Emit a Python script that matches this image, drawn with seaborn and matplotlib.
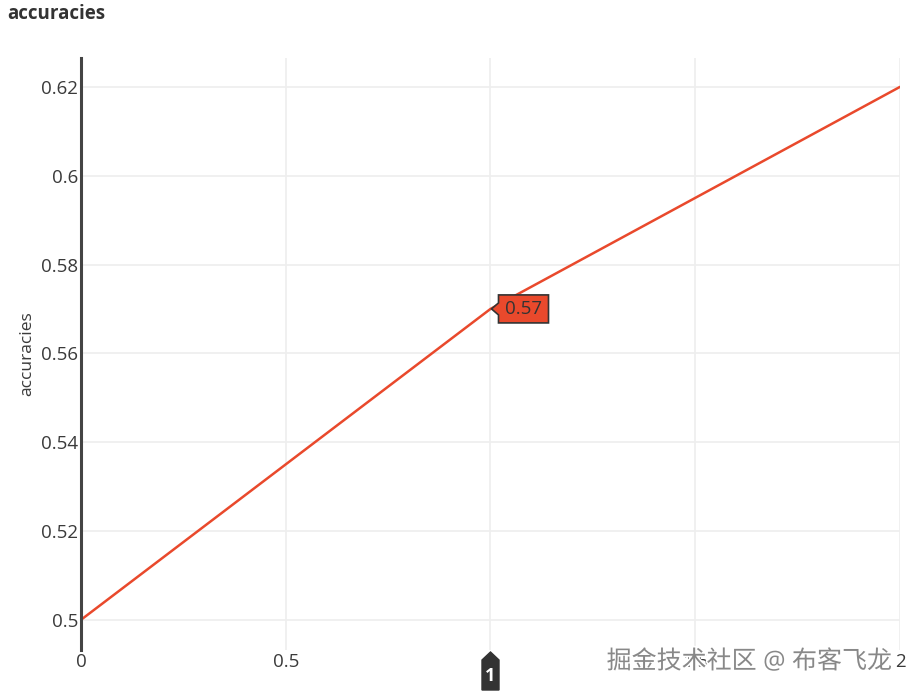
import numpy as np
import pandas as pd
import seaborn as sns
import matplotlib.pyplot as plt
import matplotlib.patheffects as pe
import matplotlib.transforms as mtransforms
from matplotlib.patches import Polygon

# epochs and accuracy values
epochs = [0, 1, 2]
accuracies = [0.5, 0.57, 0.62]
y_ticks = [0.5, 0.52, 0.54, 0.56, 0.58, 0.6, 0.62]
y_tick_labels = ["0.5", "0.52", "0.54", "0.56", "0.58", "0.6", "0.62"]
x_ticks = [0, 0.5, 1, 1.5, 2]
x_tick_labels = ["0", "0.5", "1", "1.5", "2"]
hover_idx = 1

df = pd.DataFrame({"epoch": epochs, "accuracies": accuracies})

sns.set_style("white")
plt.rcParams['font.family'] = ['Open Sans', 'Noto Sans CJK SC', 'DejaVu Sans']

fig = plt.figure(figsize=(9.12, 6.97), dpi=100)
ax = fig.add_axes([81 / 912, 47 / 697, 819 / 912, 592 / 697])

line_color = "#E9492C"
sns.lineplot(data=df, x="epoch", y="accuracies", ax=ax, color=line_color,
             linewidth=1.8, zorder=3)

ax.set_xlim(0, 2)
ax.set_ylim(0.4932, 0.6265)
ax.set_xticks(x_ticks)
ax.set_xticklabels(x_tick_labels)
ax.set_yticks(y_ticks)
ax.set_yticklabels(y_tick_labels)
ax.grid(True, color="#eeeeee", linewidth=1.2, zorder=0)
ax.tick_params(axis="both", length=0, labelsize=13.5, colors="#3a3a3a")
ax.tick_params(axis="y", pad=2)
ax.tick_params(axis="x", pad=2)

for s in ["top", "right", "bottom"]:
    ax.spines[s].set_visible(False)
ax.spines["left"].set_color("#444444")
ax.spines["left"].set_linewidth(2.2)
ax.spines["left"].set_zorder(4)

ax.set_xlabel("")
ax.set_ylabel("accuracies", fontsize=12.5, color="#3a3a3a", labelpad=4)

fig.text(7 / 912, 1 - 14 / 697, "accuracies", fontsize=13.5, fontweight="bold",
         color="#333333", va="center", ha="left")

# hover label on the point (pixel offsets around the data point)
hx, hy = epochs[hover_idx], accuracies[hover_idx]
pt_trans = mtransforms.ScaledTranslation(hx, hy, ax.transData)
pix = mtransforms.Affine2D()
tip = Polygon([(1, 0), (8, -6), (8, -14), (58, -14), (58, 14), (8, 14), (8, 6)],
              closed=True, fc=line_color, ec="#333333", lw=1.2,
              transform=pix + pt_trans, zorder=6, clip_on=False)
ax.add_patch(tip)
ax.text(33, 0, f"{hy:.2f}", transform=pix + pt_trans, ha="center", va="center",
        fontsize=13.5, color="#333333", zorder=7)

# hover label on the x axis
ax_trans = mtransforms.ScaledTranslation(hx, 0, ax.get_xaxis_transform())
xtip = Polygon([(0, -2), (8.5, -10), (8.5, -40), (-8.5, -40), (-8.5, -10)],
               closed=True, fc="#333333", ec="#333333", lw=1,
               transform=pix + ax_trans, zorder=6, clip_on=False)
ax.add_patch(xtip)
ax.text(0, -26, x_tick_labels[2], transform=pix + ax_trans, ha="center",
        va="center", fontsize=13, fontweight="bold", color="white", zorder=7)

# watermark
fig.text(892 / 912, 1 - 662 / 697, "掘金技术社区 @ 布客飞龙", fontsize=18,
         color="#888888", ha="right", va="center",
         path_effects=[pe.withStroke(linewidth=2.5, foreground="white")], zorder=10)

fig.savefig("out.png", dpi=100)
